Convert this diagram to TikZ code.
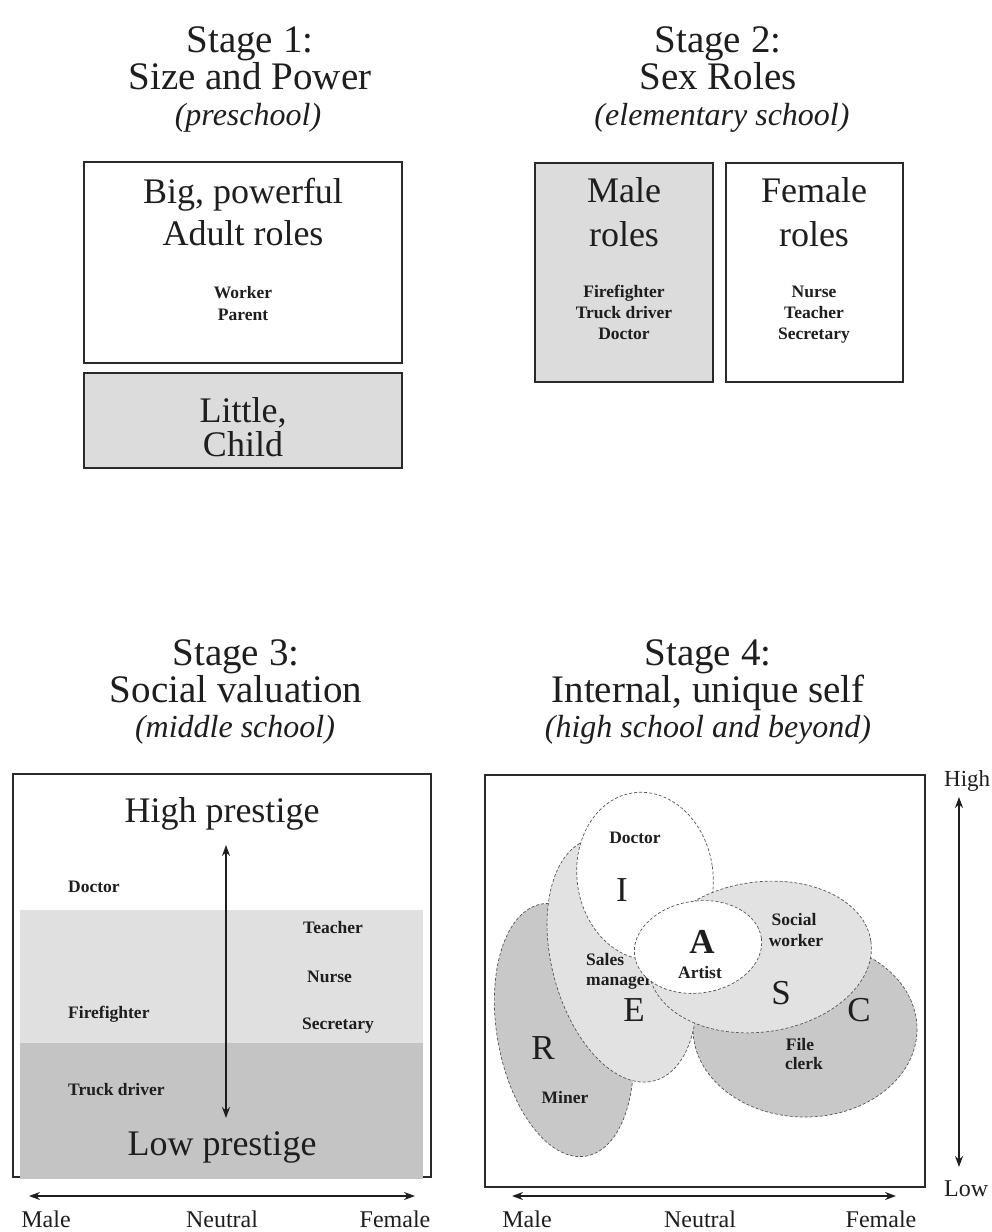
\documentclass[tikz,border=0pt]{standalone}
\usepackage{fontspec}
\setmainfont{Liberation Serif}
\usetikzlibrary{arrows.meta}
\definecolor{ink}{HTML}{1E1E1E}
\definecolor{frame}{HTML}{2A2A2A}
\definecolor{boxgray}{HTML}{DCDCDC}
\definecolor{bandlight}{HTML}{E0E0E0}
\definecolor{banddark}{HTML}{C4C4C4}
\definecolor{ellight}{HTML}{E2E2E2}
\definecolor{eldark}{HTML}{C8C8C8}
\definecolor{edge}{HTML}{555555}
\begin{document}
\begin{tikzpicture}[x=1pt,y=-1pt,
  every node/.style={inner sep=0pt, text=ink},
  title/.style={font=\fontsize{39}{39}\selectfont, anchor=base},
  subtitle/.style={font=\fontsize{32}{32}\selectfont\itshape, anchor=base},
  boxtext/.style={font=\fontsize{36}{36}\selectfont, anchor=base},
  letter/.style={font=\fontsize{35}{35}\selectfont},
  role/.style={font=\fontsize{17.5}{17.5}\selectfont\bfseries, anchor=base},
  rolew/.style={role, anchor=base west},
  axislabel/.style={font=\fontsize{24}{24}\selectfont, anchor=base},
  panel/.style={draw=frame, line width=1.6pt},
  twoway/.style={{Stealth[length=11pt,width=8pt]}-{Stealth[length=11pt,width=8pt]}, line width=1.7pt, draw=ink},
  setshape/.style={draw=edge, line width=0.7pt, densely dashed}
]
\useasboundingbox (0,0) rectangle (992,1232);
\fill[white] (0,0) rectangle (992,1232);

% ---------- Stage 1 ----------
\node[title]    (t1a) at (250,52)  {Stage 1:};
\node[title]    (t1b) at (250,89)  {Size and Power};
\node[subtitle] (t1c) at (248,125) {(preschool)};

\node[panel, fill=white, minimum width=318pt, minimum height=201pt] (adult) at (243,262.5) {};
\node[panel, fill=boxgray, minimum width=318pt, minimum height=95pt] (child) at (243,420.5) {};
\node[boxtext] (adultA) at (243,203) {Big, powerful};
\node[boxtext] (adultB) at (243,245) {Adult roles};
\node[role]    (worker) at (243,298) {Worker};
\node[role]    (parent) at (243,320) {Parent};
\node[boxtext] (childA) at (243,422) {Little,};
\node[boxtext] (childB) at (243,456) {Child};

% ---------- Stage 2 ----------
\node[title]    (t2a) at (718,52)  {Stage 2:};
\node[title]    (t2b) at (718,89)  {Sex Roles};
\node[subtitle] (t2c) at (722,125) {(elementary school)};

\node[panel, fill=boxgray, minimum width=178pt, minimum height=219pt] (male) at (624,272.5) {};
\node[panel, fill=white, minimum width=177pt, minimum height=219pt] (female) at (814.5,272.5) {};
\node[boxtext] (maleA) at (624,202) {Male};
\node[boxtext] (maleB) at (624,246) {roles};
\node[role] (m1) at (624,297) {Firefighter};
\node[role] (m2) at (624,318) {Truck driver};
\node[role] (m3) at (624,339) {Doctor};
\node[boxtext] (femA) at (814,202) {Female};
\node[boxtext] (femB) at (814,246) {roles};
\node[role] (f1) at (814,297) {Nurse};
\node[role] (f2) at (814,318) {Teacher};
\node[role] (f3) at (814,339) {Secretary};

% ---------- Stage 3 ----------
\node[title]    (t3a) at (236,665) {Stage 3:};
\node[title]    (t3b) at (236,702) {Social valuation};
\node[subtitle] (t3c) at (235,737) {(middle school)};

\draw[panel] (13,774) rectangle (431,1177);
\fill[bandlight] (20,910) rectangle (423,1043);
\fill[banddark]  (20,1043) rectangle (423,1179);

\node[boxtext] (high) at (222,822)  {High prestige};
\node[boxtext] (low)  at (222,1155) {Low prestige};
\coordinate (s3top) at (226,845);
\coordinate (s3bot) at (226,1118);
\draw[twoway] (s3top) -- (s3bot);

\node[rolew] (s3doc)   at (68,892)   {Doctor};
\node[rolew] (s3fire)  at (68,1018)  {Firefighter};
\node[rolew] (s3truck) at (68,1095)  {Truck driver};
\node[rolew] (s3teach) at (303,933)  {Teacher};
\node[rolew] (s3nurse) at (307,982)  {Nurse};
\node[rolew] (s3sec)   at (302,1029) {Secretary};

\coordinate (s3left)  at (29,1196);
\coordinate (s3right) at (415,1196);
\draw[twoway] (s3left) -- (s3right);
\node[axislabel] (s3male)    at (46,1227)  {Male};
\node[axislabel] (s3neutral) at (222,1227) {Neutral};
\node[axislabel] (s3female)  at (395,1227) {Female};

% ---------- Stage 4 ----------
\node[title]    (t4a) at (708,665) {Stage 4:};
\node[title]    (t4b) at (708,702) {Internal, unique self};
\node[subtitle] (t4c) at (708,737) {(high school and beyond)};

\draw[panel] (485,775) rectangle (925,1187);

% Holland types as overlapping regions
\draw[setshape, fill=eldark,  rotate around={10:(564,1030)}] (564,1030) ellipse [x radius=67, y radius=128];
\draw[setshape, fill=eldark]  (805,1029) ellipse [x radius=112, y radius=88];
\draw[setshape, fill=ellight, rotate around={15:(622,960)}] (622,960) ellipse [x radius=70, y radius=125];
\draw[setshape, fill=white,   rotate around={8:(645,876)}]  (645,876) ellipse [x radius=68, y radius=84];
\draw[setshape, fill=ellight, rotate around={8:(760,957)}]  (760,957) ellipse [x radius=112, y radius=75];
\node[role, anchor=base west] (sales) at (586,965) {Sales};
\node[role, anchor=base west] (manager) at (586,985) {manager};
\draw[setshape, fill=white,   rotate around={8:(698,947)}]  (698,947) ellipse [x radius=64, y radius=46];

\node[role] (s4doc) at (635,843) {Doctor};
\node[letter] (lI) at (622,890) {I};
\node[letter, font=\fontsize{35}{35}\selectfont\bfseries] (lA) at (702,942) {A};
\node[role] (artist) at (700,978) {Artist};
\node[role] (social) at (794,925) {Social};
\node[role] (swork)  at (796,946) {worker};
\node[letter] (lS) at (781,993) {S};
\node[letter] (lC) at (859,1010) {C};
\node[role] (file)  at (800,1050) {File};
\node[role] (clerk) at (804,1069) {clerk};
\node[letter] (lE) at (634,1010) {E};
\node[letter] (lR) at (543,1048) {R};
\node[role] (miner) at (565,1103) {Miner};

\coordinate (s4top) at (959,797);
\coordinate (s4bot) at (959,1167);
\draw[twoway] (s4top) -- (s4bot);
\node[axislabel, font=\fontsize{23}{23}\selectfont, anchor=base west] (hi) at (944,786)  {High};
\node[axislabel, anchor=base west] (lo) at (944,1196) {Low};

\coordinate (s4left)  at (512,1196);
\coordinate (s4right) at (896,1196);
\draw[twoway] (s4left) -- (s4right);
\node[axislabel] (s4male)    at (527,1227) {Male};
\node[axislabel] (s4neutral) at (700,1227) {Neutral};
\node[axislabel] (s4female)  at (881,1227) {Female};
\end{tikzpicture}
\end{document}
